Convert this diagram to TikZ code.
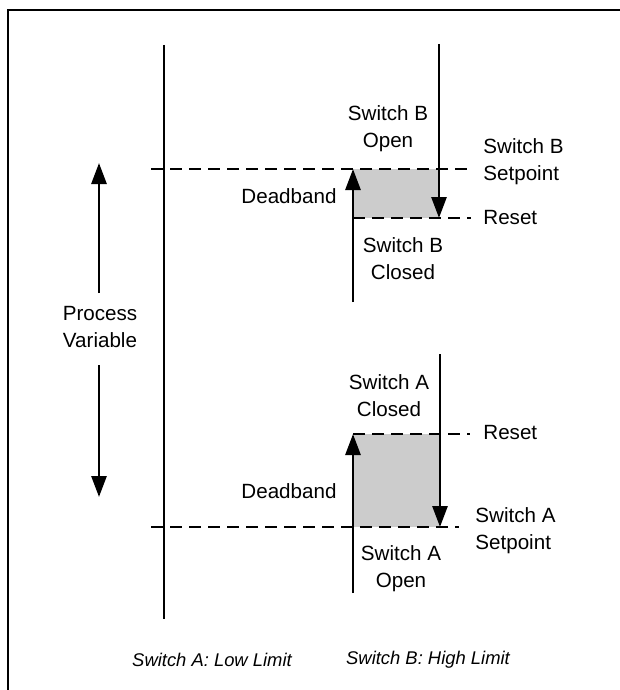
\documentclass[tikz,border=0pt]{standalone}
\usepackage{fontspec}
\setmainfont{Liberation Sans}
\usetikzlibrary{arrows.meta}
\definecolor{bandgray}{HTML}{CCCCCC}
\begin{document}
\begin{tikzpicture}[x=0.5pt,y=-0.5pt,
  lbl/.style={inner sep=0pt,align=center,font=\fontsize{10.3}{13.5}\selectfont},
  lbll/.style={inner sep=0pt,align=left,anchor=west,font=\fontsize{10.3}{13.5}\selectfont},
  foot/.style={inner sep=0pt,font=\fontsize{9.2}{11}\selectfont\itshape},
  solidline/.style={line width=1.4pt},
  arr/.style={line width=1.4pt,-{Triangle[length=10.5pt,width=7.5pt]}},
  dline/.style={line width=1.2pt,dash pattern=on 6pt off 3.5pt},
  band/.style={fill=bandgray,draw=none},
  frameline/.style={line width=1pt}]
\useasboundingbox (0,0) rectangle (620,690);
% frame (top and left edges visible)
\coordinate (fbl) at (8,692);
\coordinate (ftl) at (8,10);
\coordinate (ftr) at (622,10);
\draw[frameline] (fbl) -- (ftl) -- (ftr);
% shaded deadbands
\coordinate (bandBtl) at (353,169);
\coordinate (bandBbr) at (439,218);
\coordinate (bandAtl) at (353,434);
\coordinate (bandAbr) at (440,527);
\fill[band] (bandBtl) rectangle (bandBbr);
\fill[band] (bandAtl) rectangle (bandAbr);
% main vertical line
\coordinate (mtop) at (164,45);
\coordinate (mbot) at (164,619);
\draw[solidline] (mtop) -- (mbot);
% switch B
\coordinate (bsetL) at (151,169);
\coordinate (bsetR) at (471,169);
\coordinate (bresL) at (353,218);
\coordinate (bresR) at (471,218);
\draw[dline] (bsetL) -- (bsetR);
\draw[dline] (bresL) -- (bresR);
\coordinate (bdownT) at (439,44);
\coordinate (bdownB) at (439,218);
\draw[arr] (bdownT) -- (bdownB);
\coordinate (bupB) at (353,302);
\coordinate (bupT) at (353,169);
\draw[arr] (bupB) -- (bupT);
% switch A
\coordinate (aresL) at (353,434);
\coordinate (aresR) at (470,434);
\coordinate (asetL) at (151,527);
\coordinate (asetR) at (459,527);
\draw[dline] (aresL) -- (aresR);
\draw[dline] (asetL) -- (asetR);
\coordinate (adownT) at (440,354);
\coordinate (adownB) at (440,527);
\draw[arr] (adownT) -- (adownB);
\coordinate (aupB) at (353,593);
\coordinate (aupT) at (353,434);
\draw[arr] (aupB) -- (aupT);
% process variable
\node[lbl] (pv) at (100,327) {Process\\Variable};
\coordinate (pvupB) at (99,293);
\coordinate (pvupT) at (99,163);
\coordinate (pvdnT) at (99,365);
\coordinate (pvdnB) at (99,497);
\draw[arr] (pvupB) -- (pvupT);
\draw[arr] (pvdnT) -- (pvdnB);
% labels
\node[lbl] (swBopen) at (388,129) {Switch B\\Open};
\node[lbll] (swBset) at (483,162) {Switch B\\Setpoint};
\node[lbll] (resetB) at (483,218) {Reset};
\node[lbl] (deadB) at (289,196) {Deadband};
\node[lbl] (swBclosed) at (403,259) {Switch B\\Closed};
\node[lbl] (swAclosed) at (389,396) {Switch A\\Closed};
\node[lbll] (resetA) at (483,433) {Reset};
\node[lbl] (deadA) at (289,491) {Deadband};
\node[lbll] (swAset) at (475,531) {Switch A\\Setpoint};
\node[lbl] (swAopen) at (401,569) {Switch A\\Open};
\node[foot] (footA) at (212,660) {Switch A: Low Limit};
\node[foot] (footB) at (428,660) {Switch B: High Limit};
\end{tikzpicture}
\end{document}
